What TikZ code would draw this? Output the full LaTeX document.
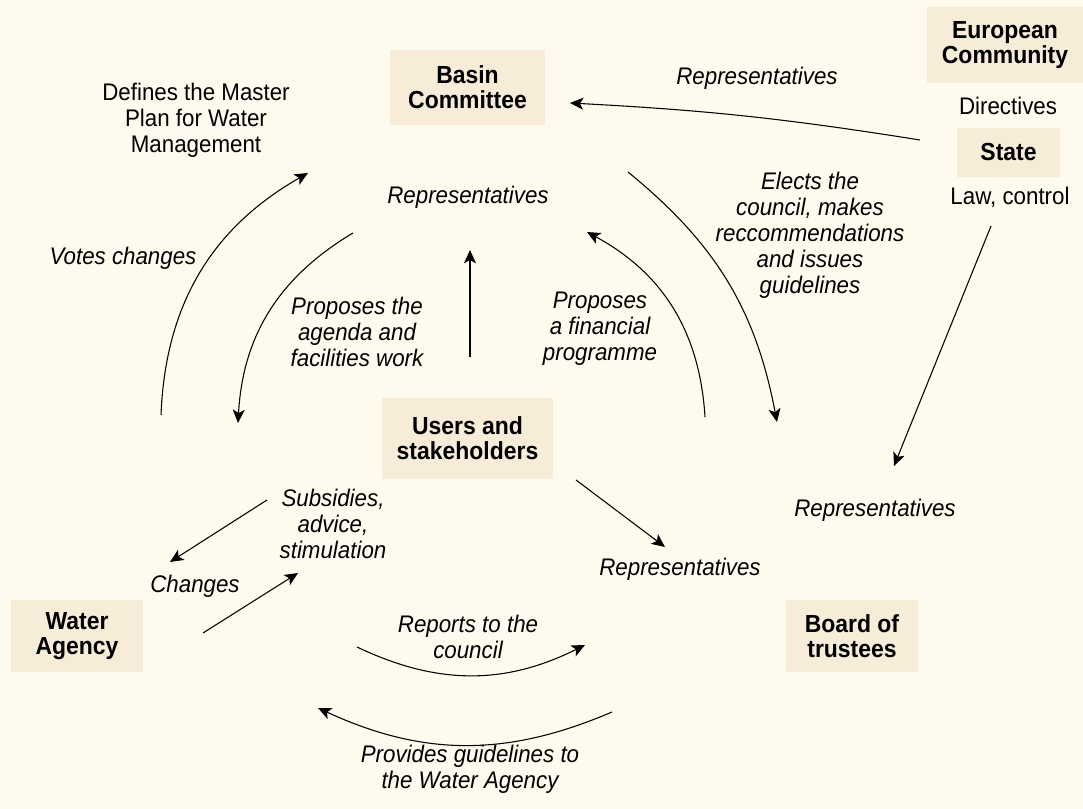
\documentclass[tikz,border=0pt]{standalone}
\usepackage{fontspec}
\setmainfont{Liberation Sans}[FakeStretch=0.93]
\usepackage{tikz}
\usetikzlibrary{arrows.meta, positioning}

\definecolor{paper}{RGB}{254,250,238}
\definecolor{boxfill}{RGB}{247,236,215}

\begin{document}
\begin{tikzpicture}[
            x=0.75pt, y=-0.75pt,
            % Organisation boxes
            entity/.style={fill=boxfill, draw=none, align=center, inner sep=0pt,
                    font=\fontsize{18.5}{19}\selectfont\bfseries},
            % Italic flow labels
            flowlabel/.style={align=center, inner sep=1pt,
                    font=\fontsize{18}{19.5}\selectfont\itshape},
            % Plain notes
            note/.style={align=center, inner sep=1pt,
                    font=\fontsize{18}{19.5}\selectfont},
            % Flow arrow
            arr/.style={-{Stealth[length=10pt, width=9pt, inset=2.5pt]},
                    line width=0.8pt, black}
        ]

        % Background
        \fill[paper] (0,0) rectangle (1083,809);
        \useasboundingbox (0,0) rectangle (1083,809);

        % Boxes
        \node[entity, minimum width=116pt, minimum height=56pt] (basin) at (467.5,87.5) {Basin\\Committee};
        \node[entity, minimum width=117pt, minimum height=57pt] (europe) at (1005,45) {European\\Community};
        \node[entity, minimum width=77pt, minimum height=37pt] (state) at (1008.5,152.5) {State};
        \node[entity, minimum width=128pt, minimum height=61pt] (users) at (467.5,438.5) {Users and\\stakeholders};
        \node[entity, minimum width=99pt, minimum height=54pt] (water) at (77,636) {Water\\Agency};
        \node[entity, minimum width=99pt, minimum height=54pt] (board) at (852,636) {Board of\\trustees};

        % Notes
        \node[note] (master) at (196,120) {Defines the Master\\Plan for Water\\Management};
        \node[note] (directives) at (1008,106) {Directives};
        \node[note] (law) at (1010,197) {Law, control};

        % Labels
        \node[flowlabel] (rep-top) at (757,78) {Representatives};
        \node[flowlabel] (rep-mid) at (468,197) {Representatives};
        \node[flowlabel] (votes) at (123,258) {Votes changes};
        \node[flowlabel] (elects) at (810,235) {Elects the\\council, makes\\reccommendations\\and issues\\guidelines};
        \node[flowlabel] (agenda) at (357,332) {Proposes the\\agenda and\\facilities work};
        \node[flowlabel] (financial) at (600,329) {Proposes\\a financial\\programme};
        \node[flowlabel] (subsidies) at (333,524) {Subsidies,\\advice,\\stimulation};
        \node[flowlabel] (changes) at (195,586) {Changes};
        \node[flowlabel] (rep-low) at (680,569) {Representatives};
        \node[flowlabel] (rep-right) at (875,510) {Representatives};
        \node[flowlabel] (reports) at (468,637) {Reports to the\\council};
        \node[flowlabel] (guidelines) at (470,769) {Provides guidelines to\\the Water Agency};

        % Arrow ends
        \coordinate (state-out) at (920,140);
        \coordinate (basin-in) at (570,103);
        \coordinate (votes-a) at (161,415);
        \coordinate (votes-b) at (308,173);
        \coordinate (agenda-a) at (353,233);
        \coordinate (agenda-b) at (238,423);
        \coordinate (rep-a) at (470,357);
        \coordinate (rep-b) at (470,250);
        \coordinate (fin-a) at (705,417);
        \coordinate (fin-b) at (587,232);
        \coordinate (elect-a) at (628,172);
        \coordinate (elect-b) at (777,422);
        \coordinate (law-a) at (991,226);
        \coordinate (law-b) at (894,466);
        \coordinate (subs-a) at (267,500);
        \coordinate (subs-b) at (170,562);
        \coordinate (water-a) at (203,633);
        \coordinate (water-b) at (298,573);
        \coordinate (users-a) at (576,480);
        \coordinate (users-b) at (665,547);
        \coordinate (report-a) at (357,647);
        \coordinate (report-b) at (585,645);
        \coordinate (guide-a) at (612,712);
        \coordinate (guide-b) at (318,708);

        % Arrows
        \draw[arr] (state-out) to[bend right=3] (basin-in);
        \draw[arr] (votes-a) to[bend left=29] (votes-b);
        \draw[arr] (agenda-a) to[bend right=28] (agenda-b);
        \draw[arr] (rep-a) -- (rep-b);
        \draw[arr] (fin-a) to[bend right=29] (fin-b);
        \draw[arr] (elect-a) to[bend left=20] (elect-b);
        \draw[arr] (law-a) -- (law-b);
        \draw[arr] (subs-a) -- (subs-b);
        \draw[arr] (water-a) -- (water-b);
        \draw[arr] (users-a) -- (users-b);
        \draw[arr] (report-a) to[bend right=26] (report-b);
        \draw[arr] (guide-a) to[bend left=24] (guide-b);

    \end{tikzpicture}
\end{document}
